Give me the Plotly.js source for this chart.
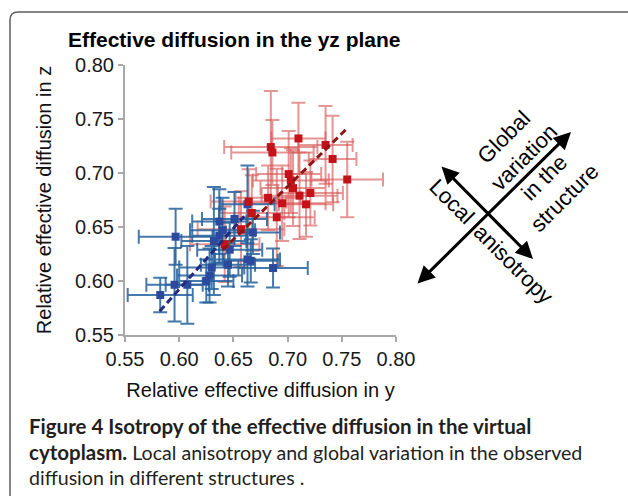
<!DOCTYPE html>
<html>
<head>
<meta charset="utf-8">
<script src="https://cdn.plot.ly/plotly-3.0.1.min.js"></script>
<style>html,body{margin:0;padding:0;background:#fff;}#chart{width:628px;height:496px;}</style>
</head>
<body>
<div id="chart"></div>
<script>
// ---- data ----
const tickVals = [0.55, 0.60, 0.65, 0.70, 0.75, 0.80];
const tickText = ["0.55", "0.60", "0.65", "0.70", "0.75", "0.80"];

const redY  = [0.710, 0.735, 0.7415, 0.755, 0.6845, 0.686, 0.701, 0.703, 0.705, 0.721, 0.711, 0.717, 0.695, 0.682, 0.664, 0.667, 0.690, 0.657, 0.642];
const redZ  = [0.732, 0.726, 0.713, 0.694, 0.724, 0.719, 0.699, 0.693, 0.686, 0.6815, 0.679, 0.671, 0.672, 0.677, 0.6735, 0.663, 0.659, 0.648, 0.634];
const redEy = [0.025, 0.025, 0.022, 0.033, 0.043, 0.038, 0.030, 0.035, 0.030, 0.030, 0.035, 0.025, 0.040, 0.030, 0.035, 0.030, 0.035, 0.040, 0.032];
const redEz = [0.033, 0.036, 0.040, 0.035, 0.052, 0.030, 0.040, 0.030, 0.035, 0.030, 0.040, 0.030, 0.035, 0.030, 0.030, 0.035, 0.045, 0.035, 0.035];

const blueY  = [0.5967, 0.5825, 0.5957, 0.6075, 0.625, 0.628, 0.630, 0.645, 0.663, 0.666, 0.632, 0.637, 0.640, 0.637, 0.651, 0.668, 0.6466, 0.6866, 0.663];
const blueZ  = [0.641, 0.587, 0.5965, 0.5965, 0.600, 0.605, 0.6125, 0.615, 0.620, 0.6187, 0.637, 0.642, 0.647, 0.655, 0.6575, 0.645, 0.629, 0.612, 0.671];
const blueEy = [0.034, 0.030, 0.026, 0.020, 0.025, 0.030, 0.030, 0.025, 0.030, 0.025, 0.030, 0.025, 0.030, 0.025, 0.030, 0.025, 0.030, 0.032, 0.025];
const blueEz = [0.026, 0.016, 0.034, 0.036, 0.020, 0.025, 0.020, 0.020, 0.025, 0.020, 0.050, 0.025, 0.030, 0.030, 0.025, 0.020, 0.025, 0.018, 0.036];

const blueFitY = [0.582, 0.660];
const blueFitZ = [0.572, 0.660];
const redFitY  = [0.640, 0.754];
const redFitZ  = [0.6286, 0.7404];

const titleText = "Effective diffusion in the yz plane";
const xTitle = "Relative effective diffusion in y";
const yTitle = "Relative effective diffusion in z";
const captionBold1 = "Figure 4 Isotropy of the effective diffusion in the virtual";
const captionBold2 = "cytoplasm.";
const captionRest2 = " Local anisotropy and global variation in the observed";
const captionRest3 = "diffusion in different structures .";
const globalText = "Global<br>variation<br>in the<br>structure";
const localText = "Local";
const anisoText = "anisotropy";

// ---- layout helpers ----
const W = 628, H = 496;
const M = {l: 125, r: 232, t: 65, b: 161};
const PW = W - M.l - M.r, PH = H - M.t - M.b;
const px = v => (v - M.l) / PW;
const py = v => (H - M.b - v) / PH;

const sans = "Liberation Sans, Arial, Helvetica, sans-serif";

const redErrCol = "rgba(214,84,84,0.62)";
const blueErrCol = "rgba(36,96,156,0.85)";

const traces = [
  {x: redY, y: redZ, type: "scatter", mode: "markers",
   marker: {size: 8, symbol: "square", color: "rgba(0,0,0,0)"},
   error_x: {type: "data", array: redEy, color: redErrCol, thickness: 2, width: 7},
   error_y: {type: "data", array: redEz, color: redErrCol, thickness: 2, width: 7},
   hoverinfo: "skip", showlegend: false},
  {x: blueY, y: blueZ, type: "scatter", mode: "markers",
   marker: {size: 8, symbol: "square", color: "#2b4a9e"},
   error_x: {type: "data", array: blueEy, color: blueErrCol, thickness: 2, width: 7},
   error_y: {type: "data", array: blueEz, color: blueErrCol, thickness: 2, width: 7},
   showlegend: false},
  {x: redY, y: redZ, type: "scatter", mode: "markers",
   marker: {size: 8, symbol: "square", color: "#c4121a"}, showlegend: false},
  {x: blueFitY, y: blueFitZ, type: "scatter", mode: "lines",
   line: {color: "#262a7c", width: 3, dash: "7px,4px"}, showlegend: false},
  {x: redFitY, y: redFitZ, type: "scatter", mode: "lines",
   line: {color: "#8e1518", width: 3, dash: "7px,4px"}, showlegend: false}
];

const axisCommon = {
  range: [0.55, 0.80], tickvals: tickVals, ticktext: tickText,
  showline: true, linecolor: "#a8a8a8", linewidth: 2,
  ticks: "outside", ticklen: 5, tickwidth: 2, tickcolor: "#a8a8a8",
  showgrid: false, zeroline: false, mirror: false,
  tickfont: {family: sans, size: 20, color: "#1a1a1a"}
};

const frameR = 8;
const framePath = "M " + px(10) + "," + py(520) + " L " + px(10) + "," + py(12 + frameR) +
  " Q " + px(10) + "," + py(12) + " " + px(10 + frameR) + "," + py(12) +
  " L " + px(660) + "," + py(12);

const capFont = {family: "Lato, Open Sans, sans-serif", size: 19.6, color: "#231f20"};
const capLines = [
  "<b><span style=\"font-size:20.5px\">" + captionBold1 + "</span></b>",
  "<b><span style=\"font-size:20.5px\">" + captionBold2 + "</span></b>" + captionRest2,
  captionRest3
];
const capY = [426, 452, 477];

const layout = {
  width: W, height: H, margin: M,
  paper_bgcolor: "#fff", plot_bgcolor: "#fff",
  title: {text: "<b>" + titleText + "</b>", x: 68 / W, xanchor: "left", y: 1 - 40 / H, yanchor: "middle",
          font: {family: sans, size: 21, color: "#000"}},
  xaxis: Object.assign({}, axisCommon, {title: {text: xTitle, font: {family: sans, size: 20, color: "#111"}, standoff: 14}}),
  yaxis: Object.assign({}, axisCommon, {title: {text: yTitle, font: {family: sans, size: 20, color: "#111"}, standoff: 18}}),
  shapes: [{type: "path", xref: "paper", yref: "paper", path: framePath,
            line: {color: "#5e5e5e", width: 1.5}}],
  annotations: [
    {xref: "paper", yref: "paper", x: px(571), y: py(132), ax: 416 - 571, ay: 285 - 132,
     text: "", showarrow: true, arrowside: "end+start", arrowhead: 2, startarrowhead: 2,
     arrowsize: 1.15, startarrowsize: 1.15, arrowwidth: 3, arrowcolor: "#000", standoff: 0, startstandoff: 0},
    {xref: "paper", yref: "paper", x: px(533), y: py(259), ax: 440 - 533, ay: 165 - 259,
     text: "", showarrow: true, arrowside: "end+start", arrowhead: 2, startarrowhead: 2,
     arrowsize: 1.15, startarrowsize: 1.15, arrowwidth: 3, arrowcolor: "#000", standoff: 0, startstandoff: 0},
    {xref: "paper", yref: "paper", x: px(534), y: py(167), xanchor: "center", yanchor: "middle",
     text: globalText, textangle: -45, showarrow: false, align: "center",
     font: {family: sans, size: 22, color: "#000"}},
    {xref: "paper", yref: "paper", x: px(452), y: py(201), xanchor: "center", yanchor: "middle",
     text: localText, textangle: 45, showarrow: false, font: {family: sans, size: 22, color: "#000"}},
    {xref: "paper", yref: "paper", x: px(514), y: py(264), xanchor: "center", yanchor: "middle",
     text: anisoText, textangle: 45, showarrow: false, font: {family: sans, size: 22, color: "#000"}}
  ].concat(capLines.map((t, i) => ({
    xref: "paper", yref: "paper", x: px(27), y: py(capY[i]), xanchor: "left", yanchor: "middle",
    align: "left", text: t, showarrow: false, font: capFont
  })))
};

Plotly.newPlot("chart", traces, layout, {staticPlot: true, displayModeBar: false});
</script>
</body>
</html>
